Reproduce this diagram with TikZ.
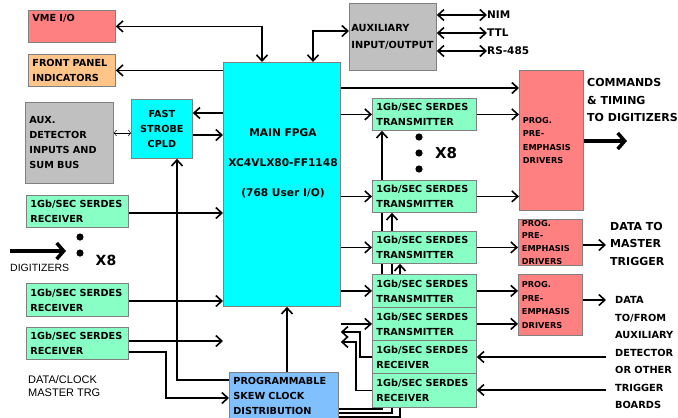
\documentclass[tikz,border=0pt]{standalone}
\usepackage{fontspec}
\setmainfont{DejaVu Sans}
\newfontfamily\lib{Liberation Sans}
\usetikzlibrary{arrows.meta}
\definecolor{cy}{HTML}{00FFFF}
\definecolor{gr}{HTML}{88FFC4}
\definecolor{rd}{HTML}{FF8080}
\definecolor{og}{HTML}{FFC488}
\definecolor{gy}{HTML}{C0C0C0}
\definecolor{bl}{HTML}{80C0FF}
\definecolor{bd}{HTML}{808080}
\pgfdeclarelayer{bg}
\pgfsetlayers{bg,main}
\begin{document}
\begin{tikzpicture}[x=1pt,y=-1pt,
  box/.style={draw=bd,line width=0.8pt,anchor=north west,inner xsep=4pt,inner ysep=0pt,align=left,
    font=\bfseries\fontsize{9.7}{15}\selectfont},
  ser/.style={box,fill=gr,minimum width=104pt,text width=96pt},
  lser/.style={box,fill=gr,minimum width=102pt,text width=94pt},
  drv/.style={box,fill=rd,minimum width=64pt,text width=57pt,inner xsep=3.5pt,
    font=\bfseries\fontsize{8.2}{13.5}\selectfont},
  lbl/.style={font=\bfseries\fontsize{11}{17.5}\selectfont,align=left,anchor=west,inner sep=0pt},
  tip/.tip={Straight Barb[length=6pt,width=11pt]},
  arr/.style={line width=1.6pt,-tip},
  darr/.style={line width=1.6pt,tip-tip},
  sdarr/.style={line width=0.5pt,{Straight Barb[length=2.5pt,width=6pt]}-{Straight Barb[length=2.5pt,width=6pt]}},
  bigarr/.style={line width=4.5pt,-{Straight Barb[length=7pt,width=16pt,line width=3.5pt]}},
  dot/.style={fill=black}]
\path[use as bounding box,clip] (0,0) rectangle (678,418);

% boxes
\node[box,fill=rd,minimum width=87pt,minimum height=32pt,text depth=18pt,text width=79pt] (vme) at (28,10) {VME I/O};
\node[box,fill=og,minimum width=87pt,minimum height=32pt,text width=79pt] (fp) at (28,54) {FRONT PANEL\\INDICATORS};
\node[box,fill=gy,minimum width=88pt,minimum height=81pt,text width=80pt] (auxdet) at (25,102) {AUX.\\DETECTOR\\INPUTS AND\\SUM BUS};
\node[box,fill=cy,minimum width=61pt,minimum height=59pt,text width=53pt,align=center] (cpld) at (131,99) {FAST\\STROBE\\CPLD};
\node[box,fill=cy,minimum width=117pt,minimum height=244pt] (fpga) at (223,62) {};
\node[font=\bfseries\fontsize{10.6}{30}\selectfont,align=center] (fpgat) at (283,163) {MAIN FPGA\\XC4VLX80-FF1148\\(768 User I/O)};
\node[box,fill=gy,minimum width=87pt,minimum height=67pt,text width=83pt,inner xsep=2pt,
  font=\bfseries\fontsize{9.8}{17}\selectfont] (auxio) at (349,3) {AUXILIARY\\INPUT/OUTPUT};

\node[lbl,font=\bfseries\fontsize{10.5}{12}\selectfont] (nim) at (487,15) {NIM};
\node[lbl,font=\bfseries\fontsize{10.5}{12}\selectfont] (ttl) at (487,33) {TTL};
\node[lbl,font=\bfseries\fontsize{10.5}{12}\selectfont] (rs) at (487,51) {RS-485};

\node[drv,minimum height=140pt] (drv1) at (519,70) {PROG.\\PRE-\\EMPHASIS\\DRIVERS};
\node[drv,minimum height=46pt,font=\bfseries\fontsize{8.2}{12.8}\selectfont] (drv2) at (518,219) {PROG.\\PRE-\\EMPHASIS\\DRIVERS};
\node[drv,minimum height=61pt] (drv3) at (518,274) {PROG.\\PRE-\\EMPHASIS\\DRIVERS};

\node[box,fill=bl,minimum width=109pt,minimum height=48pt,text width=101pt] (clk) at (229,372) {PROGRAMMABLE\\SKEW CLOCK\\DISTRIBUTION};

\node[ser,minimum height=32pt] (t1) at (372,98) {1Gb/SEC SERDES\\TRANSMITTER};
\node[ser,minimum height=32pt] (t2) at (372,180) {1Gb/SEC SERDES\\TRANSMITTER};
\node[ser,minimum height=32pt] (t3) at (372,231) {1Gb/SEC SERDES\\TRANSMITTER};
\node[ser,minimum height=33pt] (t4) at (372,274) {1Gb/SEC SERDES\\TRANSMITTER};
\node[ser,minimum height=33pt] (t5) at (372,307) {1Gb/SEC SERDES\\TRANSMITTER};
\node[ser,minimum height=33pt] (r6) at (372,340) {1Gb/SEC SERDES\\RECEIVER};
\node[ser,minimum height=34pt] (r7) at (372,373) {1Gb/SEC SERDES\\RECEIVER};

\node[lser,minimum height=32pt] (rx1) at (26,195) {1Gb/SEC SERDES\\RECEIVER};
\node[lser,minimum height=33pt] (rx2) at (26,283) {1Gb/SEC SERDES\\RECEIVER};
\node[lser,minimum height=32pt] (rx3) at (26,327) {1Gb/SEC SERDES\\RECEIVER};

% texts
\node[lbl] (cmd) at (587,100) {COMMANDS\\\& TIMING\\TO DIGITIZERS};
\node[lbl] (mtr) at (610,243.5) {DATA TO\\MASTER\\TRIGGER};
\node[lbl,font=\bfseries\fontsize{9.8}{17.5}\selectfont] (auxt) at (615,352.5) {DATA\\TO/FROM\\AUXILIARY\\DETECTOR\\OR OTHER\\TRIGGER\\BOARDS};
\node[lbl,font=\lib\fontsize{10.5}{12}\selectfont] (dig) at (10,268) {DIGITIZERS};
\node[lbl,font=\lib\fontsize{11}{13}\selectfont] (dcm) at (28,386.5) {DATA/CLOCK\\MASTER TRG};
\node[font=\bfseries\fontsize{15}{15}\selectfont,inner sep=0pt] (x8r) at (446,153) {X8};
\node[font=\bfseries\fontsize{14}{14}\selectfont,inner sep=0pt] (x8l) at (106,260) {X8};
\fill[dot] (419,137) circle[radius=3.6pt] (419,153) circle[radius=3.6pt] (419,169) circle[radius=3.6pt];
\fill[dot] (80,237) circle[radius=3.6pt] (80,253) circle[radius=3.6pt];

\coordinate (cmdend) at (627,141);
\coordinate (digstart) at (10,251);
\coordinate (digend) at (66,251);
\coordinate (mtin) at (606,245);
\coordinate (auxin) at (606,300);
\coordinate (ext6) at (606,357);
\coordinate (ext7) at (606,390);

\begin{pgfonlayer}{bg}
\draw[arr] (clk.east |- 0,409) -| (382,0 |- t1.south);
\draw[arr] (clk.east |- 0,413) -| (392,0 |- t2.south);
\draw[arr] (clk.east |- 0,417) -| (400,0 |- t3.south);
\end{pgfonlayer}

% connectors
\draw[darr] (vme.east) -| (262,0 |- fpga.north);
\draw[darr] (313,0 |- fpga.north) |- (auxio.west |- 0,31);
\draw[darr] (auxio.east |- 0,15) -- (nim.west);
\draw[darr] (auxio.east |- 0,33) -- (ttl.west);
\draw[darr] (auxio.east |- 0,51) -- (rs.west);
\draw[arr] (fpga.west |- fp.east) -- (fp.east);
\draw[sdarr] (auxdet.east |- 0,133) -- (cpld.west |- 0,133);
\draw[arr] (fpga.west |- 0,113) -- (cpld.east |- 0,113);
\draw[arr] (cpld.east |- 0,135) -- (fpga.west |- 0,135);
\draw[arr] (clk.west |- 0,380) -| (177,0 |- cpld.south);
\draw[arr] (rx1.east |- 0,213) -- (fpga.west |- 0,213);
\draw[arr] (rx2.east |- 0,301) -- (fpga.west |- 0,301);
\draw[arr] (rx3.east |- 0,341) -- (fpga.west |- 0,341);
\draw[arr] (rx3.east |- 0,352) -| (166,398) -- (clk.west |- 0,398);
\draw[arr] (287,0 |- clk.north) -- (287,0 |- fpga.south);

\draw[arr] (fpga.east |- 0,88) -- (drv1.west |- 0,88);
\draw[arr] (fpga.east |- t1.west) -- (t1.west);
\draw[arr] (t1.east) -- (drv1.west |- t1.east);
\draw[arr] (fpga.east |- t2.west) -- (t2.west);
\draw[arr] (t2.east) -- (drv1.west |- t2.east);
\draw[arr] (fpga.east |- t3.west) -- (t3.west);
\draw[arr] (t3.east) -- (drv2.west |- t3.east);
\draw[arr] (fpga.east |- t4.west) -- (t4.west);
\draw[arr] (t4.east) -- (drv3.west |- t4.east);
\draw[arr] (fpga.east |- t5.west) -- (t5.west);
\draw[arr] (t5.east) -- (drv3.west |- t5.east);
\draw[arr] (drv2.east |- mtin) -- (mtin);
\draw[arr] (drv3.east |- auxin) -- (auxin);
\draw[arr] (ext6) -- (r6.east |- ext6);
\draw[arr] (ext7) -- (r7.east |- ext7);
\draw[arr] (r6.west) -| (360,332) -- (fpga.east |- 0,332);
\draw[arr] (r7.west) -| (356,342) -- (fpga.east |- 0,342);

\draw[bigarr] (drv1.east |- cmdend) -- (cmdend);
\draw[bigarr] (digstart) -- (digend);
\end{tikzpicture}
\end{document}
